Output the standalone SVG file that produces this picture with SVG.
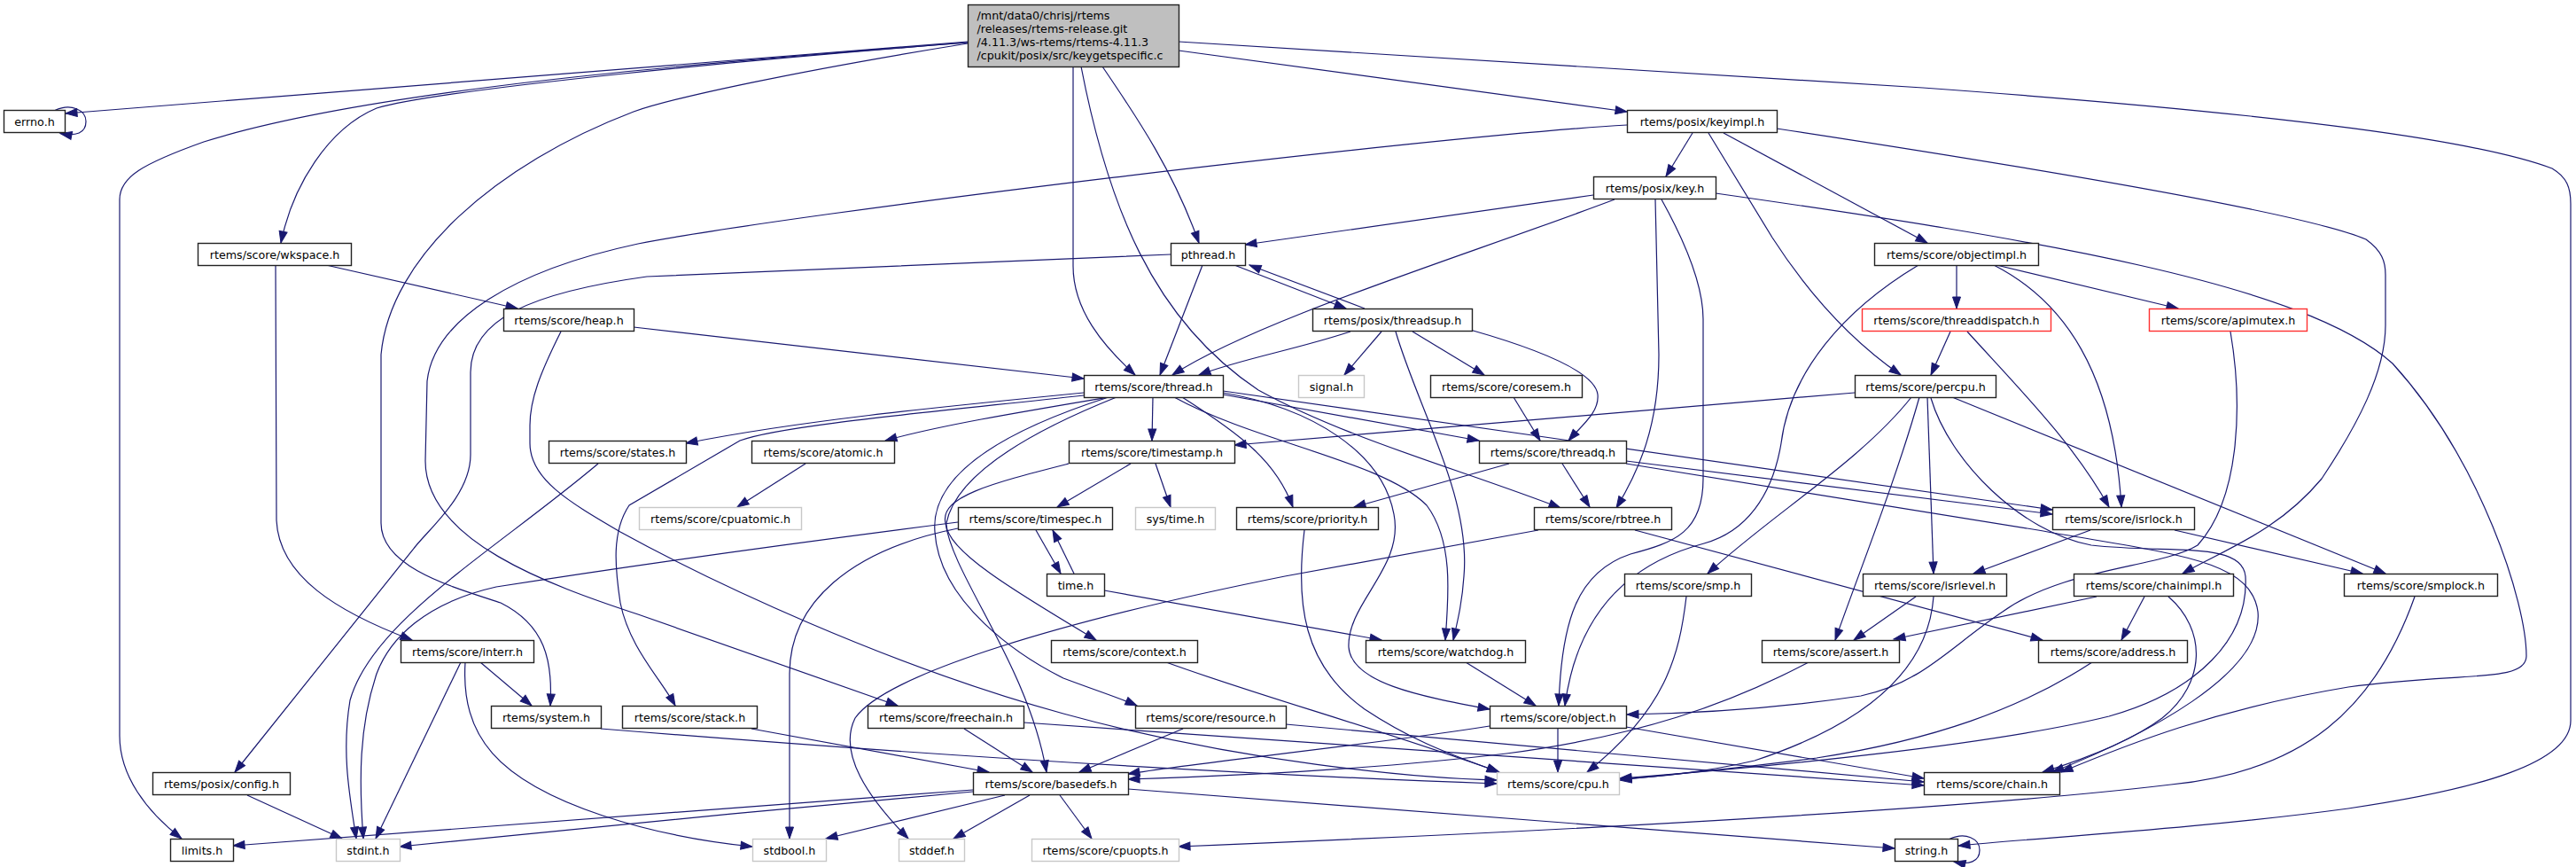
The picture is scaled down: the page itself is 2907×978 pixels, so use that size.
<svg xmlns="http://www.w3.org/2000/svg" width="2907" height="978" viewBox="0 0 2907 978">
<style>
rect{fill:#fff;stroke:#222;stroke-width:1.4}
.m{fill:#bfbfbf}
.g{stroke:#c8c8c8}
.r{stroke:#ff3030}
text{font-family:"DejaVu Sans",sans-serif;font-size:12.7px;fill:#000;text-anchor:middle}
.l{text-anchor:start}
.e path{fill:none;stroke:#191970;stroke-width:1.2;marker-end:url(#a)}
</style>
<defs>
<marker id="a" markerUnits="userSpaceOnUse" markerWidth="13" markerHeight="10" viewBox="0 0 13 10" refX="13" refY="5" orient="auto" overflow="visible">
<path d="M0,0.5 L13,5 L0,9.5 z" fill="#191970" stroke="#191970" stroke-width="1"/>
</marker>
</defs>
<rect x="0" y="0" width="2907" height="978" style="fill:#fff;stroke:none"/>
<g id="edges" class="e">
<path d="M1092,47 L74,128"/>
<path d="M1092,48 C800,70 420,100 230,160 C160,185 135,200 135,225 L135,830 C135,875 165,915 205,946"/>
<path d="M1092,48 C860,66 500,100 425,122 C370,145 330,210 317,274"/>
<path d="M1092,49 C900,80 760,110 715,126 C560,185 440,290 430,400 L430,590 C430,640 510,662 565,680 C615,705 624,745 621,796"/>
<path d="M1211,75 L1211,300 C1211,350 1245,390 1281,423"/>
<path d="M1244,75 C1285,135 1325,195 1353,274"/>
<path d="M1220,75 C1250,230 1300,360 1420,440 C1520,495 1650,530 1761,573"/>
<path d="M1330,57 L1836,126"/>
<path d="M1330,47 L2170,99 C2600,130 2800,160 2880,190 C2897,200 2901,212 2901,230 L2901,813 C2901,860 2800,890 2650,912 C2480,935 2300,945 2210,954"/>
<path d="M62,124.5 C80,116 97,124 97,137 C97,150 86,154 68,150.5"/>
<path d="M2200,946.5 C2218,938 2234,946 2234,959 C2234,972 2222,976 2205,972"/>
<path d="M1910,150 L1880,199"/>
<path d="M1836,141 C1600,155 900,240 720,275 C580,305 490,360 482,430 L480,520 C480,610 620,660 720,693 L1013,796"/>
<path d="M1945,150 L2175,274"/>
<path d="M1928,150 L2000,268 C2040,330 2090,385 2145,423"/>
<path d="M2005,145 C2300,190 2600,240 2670,270 C2688,283 2692,295 2692,310 L2692,367 C2692,420 2660,480 2620,540 C2570,600 2510,620 2463,647"/>
<path d="M1798,220 L1405,276"/>
<path d="M1822,225 C1650,290 1420,360 1323,423"/>
<path d="M1868,225 L1872,400 C1872,480 1850,530 1824,573"/>
<path d="M1875,225 C1900,270 1922,320 1922,360 L1922,540 C1922,600 1890,612 1840,625 C1780,645 1762,700 1759,796"/>
<path d="M1936,218 C2300,270 2600,320 2700,410 C2800,520 2851,680 2851,740 C2851,770 2780,758 2650,775 C2500,800 2400,840 2326,871"/>
<path d="M2208,300 L2208,348"/>
<path d="M2253,299 L2458,348"/>
<path d="M2250,299 C2330,340 2385,420 2394,572"/>
<path d="M2165,299 C2080,350 2020,420 2010,500 C2000,560 1970,600 1923,613 C1840,635 1780,690 1766,796"/>
<path d="M2201,374 L2179,423"/>
<path d="M2220,374 C2280,440 2340,500 2380,572"/>
<path d="M2517,374 C2530,450 2530,560 2480,615 C2440,640 2330,640 2260,690 C2200,730 2170,770 2100,785 C2000,800 1900,805 1836,806"/>
<path d="M2093,443 L1393,502"/>
<path d="M2157,448 C2100,520 2000,580 1927,647"/>
<path d="M2166,448 C2140,540 2100,640 2071,722"/>
<path d="M2175,448 L2182,647"/>
<path d="M2179,449 C2200,520 2280,600 2360,615 C2450,625 2530,610 2534,650 C2538,720 2480,780 2380,808 C2250,840 2000,865 1828,878"/>
<path d="M2203,448 L2692,647"/>
<path d="M1524,374 C1460,395 1400,405 1353,423"/>
<path d="M1393,299 L1519,348"/>
<path d="M1540,348 L1410,299"/>
<path d="M1559,374 L1517,423"/>
<path d="M1594,374 L1675,423"/>
<path d="M1575,374 C1600,460 1660,560 1652,650 C1650,680 1645,700 1640,722"/>
<path d="M1659,372 C1740,395 1800,420 1803,445 C1805,465 1785,480 1770,497"/>
<path d="M1708,448 L1738,497"/>
<path d="M1357,299 L1309,423"/>
<path d="M1321,287 L730,312 C600,330 531,360 531,420 L531,513 C531,560 480,600 466,620 L265,871"/>
<path d="M368,299 L584,348"/>
<path d="M311,299 L312,587 C315,650 380,690 465,722"/>
<path d="M715,369 L1223,427"/>
<path d="M633,374 C610,420 598,450 598,480 L598,500 C598,540 640,565 700,600 C800,655 1000,750 1200,805 C1400,860 1600,878 1689,880"/>
<path d="M1223,443 C1050,460 900,475 774,500"/>
<path d="M1251,448 C1150,465 1060,480 999,497"/>
<path d="M1223,446 C1050,465 880,480 835,497 L710,570 C690,600 694,640 700,680 C710,730 745,765 762,796"/>
<path d="M1301,448 L1300,497"/>
<path d="M1380,445 L1669,497"/>
<path d="M1334,448 C1400,490 1440,520 1459,572"/>
<path d="M1325,448 C1420,500 1560,520 1610,570 C1640,610 1635,670 1631,722"/>
<path d="M1380,443 C1480,460 1560,510 1573,580 C1585,640 1520,680 1522,730 C1525,770 1600,785 1681,800"/>
<path d="M1380,441 L2316,575"/>
<path d="M1260,448 C1180,480 1080,530 1068,590 C1065,620 1150,670 1237,722"/>
<path d="M1251,448 C1120,490 1050,540 1055,600 C1060,680 1150,740 1200,765 C1240,780 1265,788 1283,796"/>
<path d="M1276,523 L1193,572"/>
<path d="M1304,523 L1321,572"/>
<path d="M1206,523 C1120,545 1060,560 1067,590 C1075,650 1160,750 1181,871"/>
<path d="M1169,598 L1197,647"/>
<path d="M1212,647 L1188,598"/>
<path d="M1081,596 C960,620 891,680 891,760 L891,946"/>
<path d="M1081,589 C900,612 700,640 560,662 C480,680 440,720 425,760 C405,820 405,880 410,946"/>
<path d="M675,523 C560,620 420,700 395,790 C385,850 395,900 402,946"/>
<path d="M909,523 L832,572"/>
<path d="M1703,523 L1528,572"/>
<path d="M1763,523 L1794,572"/>
<path d="M1835,520 L2316,580"/>
<path d="M1835,523 L2300,598 C2450,625 2540,630 2548,690 C2555,760 2420,830 2316,871"/>
<path d="M1845,598 L2305,722"/>
<path d="M1736,598 L1450,650 C1200,700 1000,760 965,810 C945,850 980,900 1025,946"/>
<path d="M1472,598 C1462,680 1470,750 1540,800 C1600,840 1650,855 1691,871"/>
<path d="M1654,747 L1733,796"/>
<path d="M1758,822 L1758,871"/>
<path d="M1835,820 L2171,878"/>
<path d="M1451,817 L2171,882"/>
<path d="M1155,815 L2171,886"/>
<path d="M1681,819 C1550,840 1350,860 1273,873"/>
<path d="M2041,747 C1950,795 1850,830 1700,850 C1550,868 1400,875 1273,879"/>
<path d="M1335,822 L1218,871"/>
<path d="M1088,822 L1165,871"/>
<path d="M848,822 L1116,871"/>
<path d="M678,822 C900,840 1300,870 1689,884"/>
<path d="M1316,747 C1420,785 1550,820 1692,871"/>
<path d="M1903,673 C1895,740 1880,800 1791,871"/>
<path d="M2182,673 C2175,770 2080,825 1980,858 C1920,872 1870,876 1828,879"/>
<path d="M2361,747 C2280,800 2180,835 2050,855 C1950,868 1880,874 1828,880"/>
<path d="M2162,673 L2092,722"/>
<path d="M2366,673 L2137,721"/>
<path d="M2420,673 L2394,722"/>
<path d="M2447,673 C2490,710 2490,770 2440,810 C2400,840 2340,860 2305,871"/>
<path d="M2359,598 L2227,647"/>
<path d="M2454,598 L2666,647"/>
<path d="M2725,673 C2680,800 2600,870 2450,885 C2200,915 1700,940 1330,955"/>
<path d="M1273,890 L2138,957"/>
<path d="M1134,897 L932,946"/>
<path d="M1162,897 L1076,946"/>
<path d="M1196,897 L1232,946"/>
<path d="M1098,891 L263,954"/>
<path d="M1098,893 C900,910 600,940 451,955"/>
<path d="M525,747 C520,830 560,880 680,920 C740,940 800,950 849,955"/>
<path d="M542,747 L600,796"/>
<path d="M520,747 L424,946"/>
<path d="M279,897 L386,946"/>
<path d="M1246,666 L1559,722"/>
</g>
<g id="main"><rect class="m" x="1092.5" y="5.5" width="238" height="70"/><text class="l" x="1102.5" y="21.5">/mnt/data0/chrisj/rtems</text><text class="l" x="1102.5" y="36.5">/releases/rtems-release.git</text><text class="l" x="1102.5" y="51.5">/4.11.3/ws-rtems/rtems-4.11.3</text><text class="l" x="1102.5" y="66.5">/cpukit/posix/src/keygetspecific.c</text></g>
<g id="errno"><rect x="4.5" y="124.5" width="69" height="25"/><text x="39" y="141.5">errno.h</text></g>
<g id="keyimpl"><rect x="1836.5" y="124.5" width="169" height="25"/><text x="1921" y="141.5">rtems/posix/keyimpl.h</text></g>
<g id="key"><rect x="1798.5" y="199.5" width="138" height="25"/><text x="1867.5" y="216.5">rtems/posix/key.h</text></g>
<g id="wkspace"><rect x="223.5" y="274.5" width="173" height="25"/><text x="310" y="291.5">rtems/score/wkspace.h</text></g>
<g id="pthread"><rect x="1321.5" y="274.5" width="84" height="25"/><text x="1363.5" y="291.5">pthread.h</text></g>
<g id="objectimpl"><rect x="2115.5" y="274.5" width="185" height="25"/><text x="2208" y="291.5">rtems/score/objectimpl.h</text></g>
<g id="heap"><rect x="568.5" y="348.5" width="147" height="25"/><text x="642" y="365.5">rtems/score/heap.h</text></g>
<g id="threadsup"><rect x="1481.5" y="348.5" width="180" height="25"/><text x="1571.5" y="365.5">rtems/posix/threadsup.h</text></g>
<g id="threaddispatch"><rect class="r" x="2101.5" y="348.5" width="213" height="25"/><text x="2208" y="365.5">rtems/score/threaddispatch.h</text></g>
<g id="apimutex"><rect class="r" x="2425.5" y="348.5" width="178" height="25"/><text x="2514.5" y="365.5">rtems/score/apimutex.h</text></g>
<g id="thread"><rect x="1223.5" y="423.5" width="157" height="25"/><text x="1302" y="440.5">rtems/score/thread.h</text></g>
<g id="signal"><rect class="g" x="1465.5" y="423.5" width="74" height="25"/><text x="1502.5" y="440.5">signal.h</text></g>
<g id="coresem"><rect x="1614.5" y="423.5" width="171" height="25"/><text x="1700" y="440.5">rtems/score/coresem.h</text></g>
<g id="percpu"><rect x="2093.5" y="423.5" width="159" height="25"/><text x="2173" y="440.5">rtems/score/percpu.h</text></g>
<g id="states"><rect x="619.5" y="497.5" width="155" height="25"/><text x="697" y="514.5">rtems/score/states.h</text></g>
<g id="atomic"><rect x="848.5" y="497.5" width="161" height="25"/><text x="929" y="514.5">rtems/score/atomic.h</text></g>
<g id="timestamp"><rect x="1206.5" y="497.5" width="187" height="25"/><text x="1300" y="514.5">rtems/score/timestamp.h</text></g>
<g id="threadq"><rect x="1669.5" y="497.5" width="166" height="25"/><text x="1752.5" y="514.5">rtems/score/threadq.h</text></g>
<g id="cpuatomic"><rect class="g" x="721.5" y="572.5" width="183" height="25"/><text x="813" y="589.5">rtems/score/cpuatomic.h</text></g>
<g id="timespec"><rect x="1081.5" y="572.5" width="174" height="25"/><text x="1168.5" y="589.5">rtems/score/timespec.h</text></g>
<g id="systime"><rect class="g" x="1281.5" y="572.5" width="90" height="25"/><text x="1326.5" y="589.5">sys/time.h</text></g>
<g id="priority"><rect x="1395.5" y="572.5" width="160" height="25"/><text x="1475.5" y="589.5">rtems/score/priority.h</text></g>
<g id="rbtree"><rect x="1731.5" y="572.5" width="155" height="25"/><text x="1809" y="589.5">rtems/score/rbtree.h</text></g>
<g id="isrlock"><rect x="2316.5" y="572.5" width="160" height="25"/><text x="2396.5" y="589.5">rtems/score/isrlock.h</text></g>
<g id="time"><rect x="1181.5" y="647.5" width="65" height="25"/><text x="1214" y="664.5">time.h</text></g>
<g id="smp"><rect x="1833.5" y="647.5" width="143" height="25"/><text x="1905" y="664.5">rtems/score/smp.h</text></g>
<g id="isrlevel"><rect x="2102.5" y="647.5" width="162" height="25"/><text x="2183.5" y="664.5">rtems/score/isrlevel.h</text></g>
<g id="chainimpl"><rect x="2340.5" y="647.5" width="180" height="25"/><text x="2430.5" y="664.5">rtems/score/chainimpl.h</text></g>
<g id="smplock"><rect x="2645.5" y="647.5" width="173" height="25"/><text x="2732" y="664.5">rtems/score/smplock.h</text></g>
<g id="interr"><rect x="452.5" y="722.5" width="150" height="25"/><text x="527.5" y="739.5">rtems/score/interr.h</text></g>
<g id="context"><rect x="1186.5" y="722.5" width="165" height="25"/><text x="1269" y="739.5">rtems/score/context.h</text></g>
<g id="watchdog"><rect x="1541.5" y="722.5" width="180" height="25"/><text x="1631.5" y="739.5">rtems/score/watchdog.h</text></g>
<g id="assert"><rect x="1988.5" y="722.5" width="155" height="25"/><text x="2066" y="739.5">rtems/score/assert.h</text></g>
<g id="address"><rect x="2300.5" y="722.5" width="168" height="25"/><text x="2384.5" y="739.5">rtems/score/address.h</text></g>
<g id="system"><rect x="554.5" y="796.5" width="124" height="25"/><text x="616.5" y="813.5">rtems/system.h</text></g>
<g id="stack"><rect x="702.5" y="796.5" width="152" height="25"/><text x="778.5" y="813.5">rtems/score/stack.h</text></g>
<g id="freechain"><rect x="979.5" y="796.5" width="176" height="25"/><text x="1067.5" y="813.5">rtems/score/freechain.h</text></g>
<g id="resource"><rect x="1281.5" y="796.5" width="170" height="25"/><text x="1366.5" y="813.5">rtems/score/resource.h</text></g>
<g id="object"><rect x="1681.5" y="796.5" width="154" height="25"/><text x="1758.5" y="813.5">rtems/score/object.h</text></g>
<g id="config"><rect x="172.5" y="871.5" width="155" height="25"/><text x="250" y="888.5">rtems/posix/config.h</text></g>
<g id="basedefs"><rect x="1098.5" y="871.5" width="175" height="25"/><text x="1186" y="888.5">rtems/score/basedefs.h</text></g>
<g id="cpu"><rect class="g" x="1689.5" y="871.5" width="138" height="25"/><text x="1758.5" y="888.5">rtems/score/cpu.h</text></g>
<g id="chain"><rect x="2171.5" y="871.5" width="153" height="25"/><text x="2248" y="888.5">rtems/score/chain.h</text></g>
<g id="limits"><rect x="192.5" y="946.5" width="71" height="25"/><text x="228" y="963.5">limits.h</text></g>
<g id="stdint"><rect class="g" x="379.5" y="946.5" width="72" height="25"/><text x="415.5" y="963.5">stdint.h</text></g>
<g id="stdbool"><rect class="g" x="849.5" y="946.5" width="83" height="25"/><text x="891" y="963.5">stdbool.h</text></g>
<g id="stddef"><rect class="g" x="1014.5" y="946.5" width="74" height="25"/><text x="1051.5" y="963.5">stddef.h</text></g>
<g id="cpuopts"><rect class="g" x="1164.5" y="946.5" width="166" height="25"/><text x="1247.5" y="963.5">rtems/score/cpuopts.h</text></g>
<g id="string"><rect x="2138.5" y="946.5" width="71" height="25"/><text x="2174" y="963.5">string.h</text></g>
</svg>
